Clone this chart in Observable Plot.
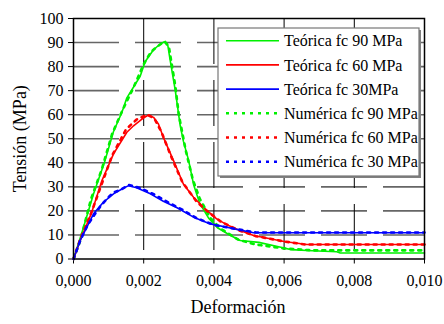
<!DOCTYPE html>
<html><head><meta charset="utf-8">
<script src="https://cdn.jsdelivr.net/npm/d3@7"></script>
<script src="https://cdn.jsdelivr.net/npm/@observablehq/plot@0.6"></script>
<style>
body{margin:0;background:#fff}
#chart svg text{font-family:"Liberation Serif","Times New Roman",Tinos,"DejaVu Serif",serif !important;}
</style>
</head><body><div id="chart"></div>
<script>
const seriesNames = ["Teórica fc 90 MPa","Teórica fc 60 MPa","Teórica fc 30MPa","Numérica fc 90 MPa","Numérica fc 60 MPa","Numérica fc 30 MPa"];
const seriesColors = ["#00f000","#ff0000","#0000ff","#00f000","#ff0000","#0000ff"];
const seriesDotted = [false,false,false,true,true,true];

const xT90 = [0,0.00024,0.00057,0.0009,0.00114,0.00138,0.00152,0.0019,0.00204,0.00228,0.00247,0.00258,0.00268,0.00275,0.0029,0.00304,0.00313,0.00328,0.00342,0.0036,0.00385,0.0041,0.00445,0.00475,0.00528,0.006,0.0062,0.0068,0.0075,0.0076,0.010];
const yT90 = [0,11,27,41,53,61,67,76,82,87,89.4,90.3,89.4,83,70,55.5,49,41,31,23,17,13,10,7.7,6.9,4.6,3.9,3.4,3.0,2.5,2.5];

const xT60 = [0,0.00019,0.00052,0.00081,0.00114,0.00152,0.00171,0.00195,0.00214,0.00228,0.00242,0.00256,0.00285,0.00313,0.00342,0.0037,0.00408,0.0044,0.00475,0.00513,0.006,0.00665,0.010];
const yT60 = [0,7.7,19.4,32.6,43.7,52.7,55.4,58.2,59.9,58.9,56.1,50.6,40.9,31.2,25.7,21.5,16.7,14,11.8,9.8,7.3,6,6];

const xT30 = [0,0.00019,0.00038,0.00057,0.00085,0.00114,0.00138,0.00157,0.0018,0.00219,0.00256,0.00295,0.00342,0.0039,0.00437,0.00475,0.00513,0.010];
const yT30 = [0,7.7,13.2,18.8,23.6,27.1,29.1,30.5,29.6,27.1,24,21.3,17.4,14.6,13.2,12,10.9,10.9];

const xN90 = [0,0.0002,0.0005,0.0008,0.0011,0.0014,0.0017,0.002,0.0022,0.0024,0.0026,0.00272,0.0029,0.003,0.0032,0.0034,0.0036,0.0039,0.0042,0.0047,0.0052,0.006,0.0066,0.0068,0.010];
const yN90 = [0,8,25,37,52,62,71,81,86,88.5,90.5,88,72,60,45,33,25,17,12.5,8,6,4.4,3.8,3.6,3.6];

const xN60 = [0,0.0002,0.0005,0.0008,0.0011,0.0015,0.0018,0.0021,0.0023,0.0025,0.0028,0.0031,0.0035,0.0038,0.0042,0.0047,0.0052,0.006,0.0066,0.010];
const yN60 = [0,8.5,19,31,43,54,58,60,58.5,53,42,32,24,20,15.5,12,9.5,7.3,6,6];

const xN30 = [0,0.0002,0.0004,0.0006,0.00076,0.00095,0.00114,0.00133,0.00157,0.0019,0.0023,0.0027,0.0031,0.0035,0.004,0.0045,0.0052,0.010];
const yN30 = [0,8,14,18.5,21.8,25,27.7,28.7,30.8,29.5,26.8,23.5,20.5,17,14.2,12.8,11,11];

const xTicks = [0,0.002,0.004,0.006,0.008,0.010];
const yTicks = [0,10,20,30,40,50,60,70,80,90,100];
const xTitle = "Deformación";
const yTitle = "Tensión (MPa)";

const xs = [xT90,xT60,xT30,xN90,xN60,xN30];
const ys = [yT90,yT60,yT30,yN90,yN60,yN30];
const rows = [];
xs.forEach((arr,i)=>arr.forEach((x,j)=>rows.push({x, y: ys[i][j], s: i})));

const serif = "Liberation Serif, DejaVu Serif, serif";
const fmtX = d => d3.format(".3f")(d).replace(".", ",");

const lineMarks = seriesNames.map((name,i)=>Plot.line(rows.filter(r=>r.s===i), {
  x:"x", y:"y", stroke: seriesColors[i],
  strokeWidth: seriesDotted[i] ? 2.6 : 1.6,
  strokeDasharray: seriesDotted[i] ? "3,5" : null,
  curve: "linear"
}));

const plot = Plot.plot({
  width: 444, height: 324,
  marginLeft: 73, marginRight: 20, marginTop: 18, marginBottom: 65.5,
  style: {fontFamily: serif, fontSize: "16px", color: "#000", background: "#fff"},
  x: {domain: [0,0.01], ticks: xTicks},
  y: {domain: [0,100], ticks: yTicks},
  marks: [
    Plot.gridY(yTicks.filter(d=>d>0 && d<100), {stroke:"#666", strokeOpacity:1, strokeWidth:1.6, strokeDasharray:"46,16"}),
    Plot.gridX(xTicks.filter(d=>d>0 && d<0.01), {stroke:"#000", strokeOpacity:1, strokeWidth:1, strokeDasharray:"46,16"}),
    Plot.axisX(xTicks, {tickSize:5, tickPadding:11, tickFormat: fmtX, label: null, fontSize: 16}),
    Plot.axisY(yTicks, {tickSize:5, tickPadding:5, label: null, fontSize: 16}),
    ...lineMarks,
    Plot.frame({stroke:"#000", strokeWidth:1.5}),
    Plot.text([yTitle], {text: d=>d, frameAnchor:"left", dx:-53, rotate:-90, textAnchor:"middle", lineAnchor:"middle", fontSize:18}),
    Plot.text([xTitle], {text: d=>d, frameAnchor:"bottom", dx:-11, dy:48, textAnchor:"middle", lineAnchor:"middle", fontSize:18})
  ]
});
document.getElementById("chart").appendChild(plot);

// legend
const svg = d3.select(plot);
const lg = svg.append("g").attr("font-size", 16).attr("text-anchor", "start");
const lx = 218, ly = 28, lw = 201, lh = 148;
lg.append("rect").attr("x", lx+2).attr("y", ly+2).attr("width", lw).attr("height", lh).attr("fill", "#808080");
lg.append("rect").attr("x", lx).attr("y", ly).attr("width", lw).attr("height", lh).attr("fill", "#fff").attr("stroke", "#777").attr("stroke-width", 1.2);
seriesNames.forEach((name,i)=>{
  const cy = ly + 12.7 + i*24.2;
  lg.append("line").attr("x1", 226).attr("x2", 279).attr("y1", cy).attr("y2", cy)
    .attr("stroke", seriesColors[i]).attr("stroke-width", seriesDotted[i] ? 2.6 : 1.6)
    .attr("stroke-dasharray", seriesDotted[i] ? "3,5" : null);
  lg.append("text").attr("x", 284).attr("y", cy).attr("dy", "0.35em").attr("text-anchor", "start").attr("fill", "#000").text(name);
});
</script>
</body></html>
